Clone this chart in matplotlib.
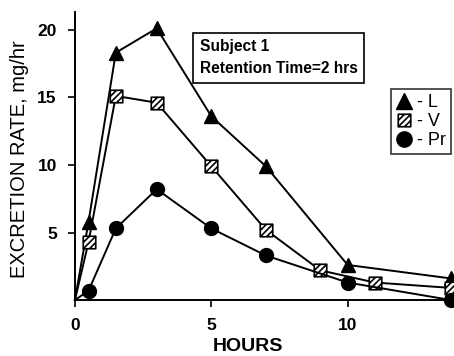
import matplotlib.pyplot as plt
import numpy as np
from matplotlib.path import Path
from matplotlib.lines import Line2D

plt.rcParams["font.family"] = ["Liberation Sans", "DejaVu Sans"]

# Data
hours_L = [0, 0.5, 1.5, 3, 5, 7, 10, 13.8]
rate_L = [0, 5.8, 18.3, 20.1, 13.6, 9.9, 2.6, 1.6]

hours_V = [0, 0.5, 1.5, 3, 5, 7, 9, 11, 13.8]
rate_V = [0, 4.3, 15.1, 14.6, 9.9, 5.2, 2.2, 1.3, 0.9]

hours_Pr = [0, 0.5, 1.5, 3, 5, 7, 10, 13.8]
rate_Pr = [0, 0.7, 5.3, 8.2, 5.3, 3.3, 1.3, 0.0]

# hatched square marker: outline plus diagonals
verts = [(-1, -1), (1, -1), (1, 1), (-1, 1), (-1, -1),
         (-1, 0), (0, 1), (-1, -1), (1, 1), (0, -1), (1, 0)]
codes = [Path.MOVETO, Path.LINETO, Path.LINETO, Path.LINETO, Path.CLOSEPOLY,
         Path.MOVETO, Path.LINETO, Path.MOVETO, Path.LINETO, Path.MOVETO, Path.LINETO]
hatch_sq = Path(verts, codes)

fig = plt.figure(figsize=(4.54, 3.56), dpi=100)
ax = fig.add_axes([0.165, 0.157, 0.835, 0.809])

ax.plot(hours_L, rate_L, color="black", lw=1.4, marker="^", ms=10,
        mfc="black", mec="black", markevery=list(range(1, len(hours_L))), clip_on=False)
ax.plot(hours_V, rate_V, color="black", lw=1.4, marker=hatch_sq, ms=9,
        mfc="white", mec="black", mew=1.2, markevery=list(range(1, len(hours_V))), clip_on=False)
ax.plot(hours_Pr, rate_Pr, color="black", lw=1.4, marker="o", ms=10,
        mfc="black", mec="black", markevery=list(range(1, len(hours_Pr))), clip_on=False)

ax.set_xlim(0, 13.9)
ax.set_ylim(0, 21.3)
ax.set_xticks([0, 5, 10])
ax.set_yticks([5, 10, 15, 20])
ax.spines["top"].set_visible(False)
ax.spines["right"].set_visible(False)
ax.spines["left"].set_linewidth(1.4)
ax.spines["bottom"].set_linewidth(1.4)
ax.tick_params(direction="out", length=5, width=1.2, labelsize=12.5, pad=8)
for lab in ax.get_xticklabels() + ax.get_yticklabels():
    lab.set_fontweight("bold")

ax.set_xlabel("HOURS", fontsize=14, fontweight="bold", labelpad=2)
ax.xaxis.set_label_coords(0.456, -0.13)
ax.set_ylabel("EXCRETION RATE, mg/hr", fontsize=14.5, labelpad=8)
ax.yaxis.set_label_coords(-0.12, 0.49)

ax.text(0.33, 0.905, "Subject 1\nRetention Time=2 hrs", transform=ax.transAxes,
        fontsize=11.2, fontweight="bold", va="top", ha="left", linespacing=1.55,
        bbox=dict(boxstyle="square,pad=0.42", fc="white", ec="black", lw=1.2))

handles = [
    Line2D([], [], ls="none", marker="^", ms=11, mfc="black", mec="black"),
    Line2D([], [], ls="none", marker=hatch_sq, ms=9, mfc="white", mec="black", mew=1.2),
    Line2D([], [], ls="none", marker="o", ms=11, mfc="black", mec="black"),
]
leg = ax.legend(handles, ["- L", "- V", "- Pr"], loc="upper left",
                bbox_to_anchor=(0.81, 0.765), frameon=True, fancybox=False,
                handlelength=0.8, handletextpad=0.35, labelspacing=0.1,
                borderpad=0.3, prop={"size": 13})
leg.get_frame().set_edgecolor("black")
leg.get_frame().set_linewidth(1.2)

fig.savefig("out.png", dpi=100)
